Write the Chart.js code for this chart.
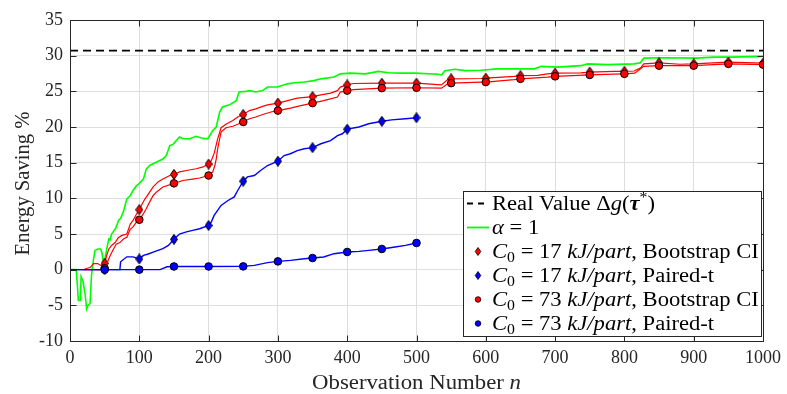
<!DOCTYPE html>
<html>
<head>
<meta charset="utf-8">
<script src="https://cdn.jsdelivr.net/npm/chart.js@4"></script>
<style>
  html, body { margin: 0; padding: 0; background: #fff; }
  canvas { display: block; }
</style>
</head>
<body>
<canvas id="saving_chart" width="787" height="394"></canvas>
<script>
// energy saving % against observation number n
const realValue = 30.7;

const alphaOne = [[0,0],[9,0],[11,-2.7],[12,-4.3],[15,-4.3],[16,-1.0],[19,-1.7],[22,-3.6],[24,-5.5],[26,-5.0],[29,-4.7],[31,-0.8],[34,1.5],[36,2.7],[40,2.9],[44,2.9],[46,2.4],[49,0.6],[53,2.9],[56,4.3],[58,4.2],[60,5.0],[63,5.4],[66,5.8],[70,6.9],[73,7.2],[77,8.1],[80,9.2],[82,9.9],[87,10.4],[91,11.1],[96,11.8],[99,12.0],[106,12.7],[110,14.1],[115,14.6],[125,15.1],[134,15.5],[139,16.0],[144,17.4],[149,17.6],[158,18.6],[163,18.35],[173,18.35],[182,18.7],[192,18.4],[199,18.35],[206,19.5],[211,20.0],[216,22.1],[220,22.8],[230,23.1],[240,23.7],[244,24.9],[254,25.0],[259,25.1],[268,24.9],[278,25.1],[285,25.6],[299,25.6],[314,26.05],[323,26.2],[338,26.3],[352,26.5],[362,26.75],[381,27.0],[390,27.45],[405,27.55],[426,27.45],[445,27.8],[460,27.6],[474,27.55],[498,27.55],[531,27.4],[536,27.3],[541,27.9],[555,28.1],[570,27.9],[593,27.95],[617,28.15],[670,28.15],[680,28.5],[703,28.4],[737,28.6],[747,28.85],[775,28.75],[814,28.85],[823,29.0],[828,29.65],[857,29.7],[904,29.65],[928,29.8],[952,29.8],[1000,29.9]];

const boot17 = [[20,0],[25,0.2],[29,0.3],[34,0.85],[40,0.85],[44,0.6],[50,0.9],[53,2.0],[56,2.9],[60,3.4],[65,3.8],[70,4.5],[75,4.8],[82,5.0],[87,6.4],[91,6.9],[96,7.8],[100,8.4],[103,9.0],[108,9.9],[113,10.6],[120,11.6],[127,12.3],[134,12.7],[144,13.2],[150,13.35],[158,13.7],[168,13.9],[182,14.15],[192,14.4],[200,14.8],[204,15.3],[208,16.3],[213,18.3],[218,19.9],[225,20.4],[235,20.9],[242,21.4],[250,21.75],[259,22.3],[268,22.55],[278,22.9],[285,23.1],[300,23.35],[314,23.7],[328,24.05],[350,24.25],[362,24.5],[376,24.75],[386,25.1],[390,25.6],[400,25.9],[409,26.1],[450,26.15],[500,26.15],[536,25.9],[545,26.65],[550,26.75],[593,26.8],[600,26.85],[641,27.1],[650,27.2],[675,27.25],[689,27.45],[700,27.55],[737,27.6],[750,27.7],[785,27.8],[800,27.8],[814,27.85],[823,28.25],[828,28.85],[850,29.0],[880,28.8],[900,28.85],[928,29.0],[950,29.1],[1000,28.95]];

const boot73 = [[20,0],[45,0],[50,0.2],[53,0.84],[56,1.54],[58,2.0],[63,2.94],[67,3.6],[72,3.8],[77,4.3],[82,4.55],[87,5.7],[91,6.0],[96,6.7],[100,7.0],[106,7.85],[110,8.55],[115,9.5],[120,10.4],[125,10.9],[134,11.6],[150,12.1],[163,12.5],[177,12.7],[187,12.85],[200,13.2],[206,13.7],[209,14.6],[211,15.5],[213,16.9],[218,19.3],[225,19.9],[235,20.1],[250,20.7],[259,21.15],[268,21.4],[278,21.75],[290,22.1],[300,22.3],[318,22.65],[333,23.0],[350,23.35],[366,23.7],[386,24.2],[390,24.9],[400,25.1],[409,25.25],[450,25.45],[500,25.5],[536,25.45],[545,26.05],[550,26.15],[593,26.3],[600,26.3],[641,26.65],[650,26.75],[689,27.0],[700,27.1],[750,27.3],[797,27.45],[800,27.45],[815,27.55],[828,28.5],[850,28.6],[880,28.6],[900,28.6],[950,28.85],[1000,28.75]];

const paired17 = [[0,0],[50,0],[72,0],[73,1.1],[82,1.8],[91,1.8],[100,1.5],[106,2.0],[113,2.2],[120,2.45],[127,2.7],[134,2.94],[142,3.4],[150,4.25],[158,5.0],[168,5.3],[177,5.5],[187,5.74],[200,6.2],[204,6.7],[208,7.6],[213,8.3],[218,9.0],[228,9.7],[237,10.2],[242,11.1],[250,12.4],[256,13.0],[266,13.2],[275,13.9],[285,14.6],[300,15.2],[309,16.0],[318,16.25],[328,16.7],[338,16.95],[350,17.1],[362,17.65],[376,18.1],[386,18.8],[393,19.05],[400,19.7],[417,20.0],[431,20.45],[450,20.8],[464,21.0],[484,21.15],[500,21.3]];

const paired73 = [[0,0],[50,0],[100,0],[130,0],[140,0.4],[150,0.45],[200,0.45],[250,0.46],[266,0.6],[285,0.98],[300,1.16],[318,1.3],[338,1.54],[350,1.63],[366,1.78],[381,2.24],[400,2.48],[417,2.56],[431,2.7],[450,2.9],[469,3.18],[484,3.4],[500,3.74]];

const FAMILY = '"Liberation Serif", "Times New Roman", serif';
const INK = '#262626';

const toPoints = arr => arr.map(([x, y]) => ({x, y}));
// markers only every 50 observations
const markerAt = r => c => (c.raw && c.raw.x > 0 && c.raw.x % 50 === 0) ? r : 0;

function diamond(fill, w, h) {
  const c = document.createElement('canvas');
  c.width = w; c.height = h;
  const g = c.getContext('2d');
  g.beginPath();
  g.moveTo(w / 2, 0.5); g.lineTo(w - 0.5, h / 2); g.lineTo(w / 2, h - 0.5); g.lineTo(0.5, h / 2);
  g.closePath();
  g.fillStyle = fill; g.fill();
  g.strokeStyle = '#000'; g.lineWidth = 1; g.stroke();
  return c;
}
const redDiamond = diamond('#ff0000', 8, 11);
const blueDiamond = diamond('#0000ff', 8, 11);

function fontFor(style, size) {
  return (style.includes('i') ? 'italic ' : '') + (style.includes('b') ? 'bold ' : '') + size + 'px ' + FAMILY;
}

// draws a row of text pieces [text, style]; style: r, i, bi, sub, sup
// stretch widens the glyphs horizontally
function richText(ctx, parts, x, y, size, align, stretch) {
  const sizeOf = s => (s === 'sub' || s === 'sup') ? size * 0.7 : size;
  const styleOf = s => (s === 'sub' || s === 'sup') ? 'r' : s;
  let total = 0;
  parts.forEach(([t, s]) => { ctx.font = fontFor(styleOf(s), sizeOf(s)); total += ctx.measureText(t).width; });
  ctx.save();
  ctx.translate(x, y);
  ctx.scale(stretch, 1);
  let cx = align === 'center' ? -total / 2 : 0;
  ctx.textAlign = 'left';
  ctx.textBaseline = 'alphabetic';
  parts.forEach(([t, s]) => {
    ctx.font = fontFor(styleOf(s), sizeOf(s));
    const dy = s === 'sub' ? size * 0.22 : s === 'sup' ? -size * 0.38 : 0;
    ctx.fillText(t, cx, dy);
    cx += ctx.measureText(t).width;
  });
  ctx.restore();
}

const legendRows = [
  {kind: 'dash', parts: [['Real Value ', 'r'], ['\u0394', 'r'], ['g', 'i'], ['(', 'r'], ['\u03c4', 'bi'], ['*', 'sup'], [')', 'r']]},
  {kind: 'green', parts: [['\u03b1', 'i'], [' = 1', 'r']]},
  {kind: 'rd', parts: [['C', 'i'], ['0', 'sub'], [' = 17 ', 'r'], ['kJ/part', 'i'], [', Bootstrap CI', 'r']]},
  {kind: 'bd', parts: [['C', 'i'], ['0', 'sub'], [' = 17 ', 'r'], ['kJ/part', 'i'], [', Paired-t', 'r']]},
  {kind: 'rc', parts: [['C', 'i'], ['0', 'sub'], [' = 73 ', 'r'], ['kJ/part', 'i'], [', Bootstrap CI', 'r']]},
  {kind: 'bc', parts: [['C', 'i'], ['0', 'sub'], [' = 73 ', 'r'], ['kJ/part', 'i'], [', Paired-t', 'r']]}
];

const decorations = {
  id: 'decorations',
  afterDatasetsDraw(chart) {
    const {ctx, chartArea: a, scales: {x, y}} = chart;
    const L = Math.round(a.left) + 0.5, R = Math.round(a.right) + 0.5;
    const T = Math.round(a.top) + 0.5, B = Math.round(a.bottom) + 0.5;
    ctx.save();
    ctx.strokeStyle = INK;
    ctx.lineWidth = 1;
    ctx.beginPath();
    ctx.rect(L, T, R - L, B - T);
    x.ticks.forEach(t => {
      const px = Math.round(x.getPixelForValue(t.value)) + 0.5;
      ctx.moveTo(px, B); ctx.lineTo(px, B - 6);
      ctx.moveTo(px, T); ctx.lineTo(px, T + 6);
    });
    y.ticks.forEach(t => {
      const py = Math.round(y.getPixelForValue(t.value)) + 0.5;
      ctx.moveTo(L, py); ctx.lineTo(L + 6, py);
      ctx.moveTo(R, py); ctx.lineTo(R - 6, py);
    });
    ctx.stroke();

    // axis titles
    ctx.fillStyle = INK;
    richText(ctx, [['Observation Number ', 'r'], ['n', 'i']], (a.left + a.right) / 2, 389, 20, 'center', 1.14);
    ctx.save();
    ctx.translate(29, (a.top + a.bottom) / 2 + 3);
    ctx.rotate(-Math.PI / 2);
    richText(ctx, [['Energy Saving %', 'r']], 0, 0, 20, 'center', 1.03);
    ctx.restore();

    // legend box
    const bx = 463.5, by = 191.5, bw = 298, bh = 145;
    ctx.fillStyle = '#fff';
    ctx.fillRect(bx, by, bw, bh);
    ctx.strokeStyle = INK;
    ctx.strokeRect(bx, by, bw, bh);
    legendRows.forEach((row, i) => {
      const cy = 203.5 + i * 24;
      const sx = 478;
      ctx.save();
      if (row.kind === 'dash') {
        ctx.strokeStyle = '#000'; ctx.lineWidth = 1.8; ctx.setLineDash([6, 5]);
        ctx.beginPath(); ctx.moveTo(467, cy); ctx.lineTo(489, cy); ctx.stroke();
      } else if (row.kind === 'green') {
        ctx.strokeStyle = '#00ff00'; ctx.lineWidth = 1.8;
        ctx.beginPath(); ctx.moveTo(467, cy); ctx.lineTo(489, cy); ctx.stroke();
      } else if (row.kind === 'rd' || row.kind === 'bd') {
        ctx.beginPath();
        ctx.moveTo(sx, cy - 4); ctx.lineTo(sx + 2.8, cy); ctx.lineTo(sx, cy + 4); ctx.lineTo(sx - 2.8, cy);
        ctx.closePath();
        ctx.fillStyle = row.kind === 'rd' ? '#ff0000' : '#0000ff'; ctx.fill();
        ctx.strokeStyle = '#000'; ctx.lineWidth = 0.8; ctx.stroke();
      } else {
        ctx.beginPath(); ctx.arc(sx, cy, 2.8, 0, Math.PI * 2);
        ctx.fillStyle = row.kind === 'rc' ? '#ff0000' : '#0000ff'; ctx.fill();
        ctx.strokeStyle = '#000'; ctx.lineWidth = 0.8; ctx.stroke();
      }
      ctx.restore();
      ctx.fillStyle = '#000';
      richText(ctx, row.parts, 492, cy + 6.5, 20, 'left', 1.13);
    });
    ctx.restore();
  }
};

const ctx = document.getElementById('saving_chart');

const data = {
  datasets: [
    {
      label: 'Real Value',
      data: [{x: 0, y: realValue}, {x: 1000, y: realValue}],
      borderColor: '#000',
      borderWidth: 1.8,
      borderDash: [8, 5],
      pointRadius: 0,
      order: 6
    },
    {
      label: 'alpha = 1',
      data: toPoints(alphaOne),
      borderColor: '#00ff00',
      borderWidth: 1.6,
      pointRadius: 0,
      order: 5
    },
    {
      label: 'C0 = 17 kJ/part, Bootstrap CI',
      data: toPoints(boot17),
      borderColor: '#ff0000',
      borderWidth: 1.2,
      pointStyle: redDiamond,
      pointRadius: markerAt(4),
      order: 4
    },
    {
      label: 'C0 = 17 kJ/part, Paired-t',
      data: toPoints(paired17),
      borderColor: '#0000ff',
      borderWidth: 1.4,
      pointStyle: blueDiamond,
      pointRadius: markerAt(4),
      order: 3
    },
    {
      label: 'C0 = 73 kJ/part, Bootstrap CI',
      data: toPoints(boot73),
      borderColor: '#ff0000',
      borderWidth: 1.2,
      pointStyle: 'circle',
      pointRadius: markerAt(3.8),
      pointBackgroundColor: '#ff0000',
      pointBorderColor: '#000',
      pointBorderWidth: 1,
      order: 2
    },
    {
      label: 'C0 = 73 kJ/part, Paired-t',
      data: toPoints(paired73),
      borderColor: '#0000ff',
      borderWidth: 1.4,
      pointStyle: 'circle',
      pointRadius: markerAt(3.8),
      pointBackgroundColor: '#0000ff',
      pointBorderColor: '#000',
      pointBorderWidth: 1,
      order: 1
    }
  ]
};

const config = {
  type: 'line',
  data: data,
  options: {
    responsive: false,
    animation: false,
    devicePixelRatio: 1,
    layout: { padding: { top: 20, right: 20, left: 0, bottom: 0 } },
    elements: { line: { tension: 0 } },
    plugins: { legend: { display: false }, tooltip: { enabled: false } },
    scales: {
      x: {
        type: 'linear',
        min: 0,
        max: 1000,
        afterFit: s => { s.height = 53; },
        ticks: { stepSize: 100, color: INK, padding: 6, maxRotation: 0, callback: v => String(v), font: { family: FAMILY, size: 18 } },
        grid: { color: '#dedede', drawTicks: false },
        border: { display: false }
      },
      y: {
        min: -10,
        max: 35,
        afterFit: s => { s.width = 70; },
        ticks: { stepSize: 5, color: INK, padding: 7, callback: v => String(v), font: { family: FAMILY, size: 18 } },
        grid: { color: '#dedede', drawTicks: false },
        border: { display: false }
      }
    }
  },
  plugins: [decorations]
};

new Chart(ctx, config);
</script>
</body>
</html>
